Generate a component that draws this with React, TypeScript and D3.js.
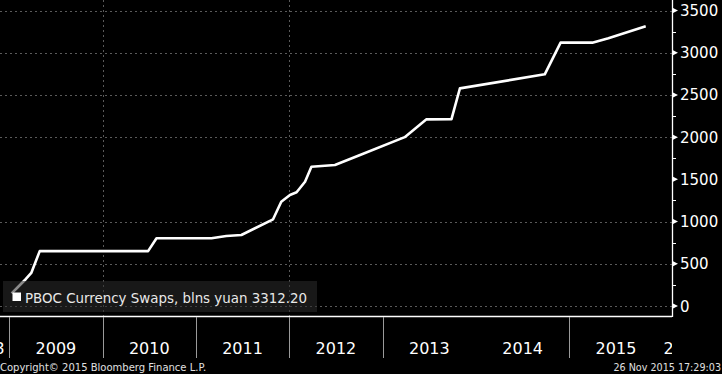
import React from "react";
import * as d3 from "d3";

const dates: string[] = [
  "2009-01-10", "2009-01-31", "2009-03-07", "2009-03-28", "2009-04-30",
  "2010-06-28", "2010-07-31", "2011-03-03", "2011-04-30", "2011-06-28",
  "2011-10-30", "2011-12-01", "2012-01-04", "2012-01-30", "2012-03-03",
  "2012-03-28", "2012-06-28", "2012-09-27", "2013-03-28", "2013-06-20",
  "2013-09-27", "2013-10-30", "2014-09-27", "2014-11-28", "2015-04-01",
  "2015-06-03", "2015-10-27",
];
const values: number[] = [
  150, 213, 320, 391, 650,
  650, 803, 803, 829, 841,
  1027, 1235, 1315, 1347, 1472,
  1650, 1670, 1780, 2000, 2210,
  2213, 2578, 2744, 3119, 3119,
  3171, 3312.2,
];
const yTicks: number[] = [0, 500, 1000, 1500, 2000, 2500, 3000, 3500];
const yGridTicks: number[] = [0, 500, 1000, 2000, 2500, 3000, 3500];
const yearLabels: number[] = [2008, 2009, 2010, 2011, 2012, 2013, 2014, 2015, 2016];
const dividerYears: number[] = [2009, 2010, 2011, 2012, 2013, 2015];
const gridYears: number[] = [2010, 2012];
const seriesName = "PBOC Currency Swaps, blns yuan";
const lastValue = "3312.20";
const copyright = "Copyright\u00A9 2015 Bloomberg Finance L.P.";
const stamp = "26 Nov 2015 17:29:03";

const W = 722;
const H = 374;
const plotRight = 672;
const axisY = 316;
const font = "'DejaVu Sans', Verdana, sans-serif";

export default function App() {
  const parse = d3.timeParse("%Y-%m-%d");
  const data = dates.map((d, i) => ({ date: parse(d) as Date, value: values[i] }));
  const x = d3
    .scaleTime()
    .domain([new Date(2009, 0, 1), new Date(2016, 0, 1)])
    .range([9.3, 662.6]);
  const y = d3.scaleLinear().domain([0, 3500]).range([306, 10.5]);
  const line = d3
    .line<{ date: Date; value: number }>()
    .x((d) => x(d.date))
    .y((d) => y(d.value));
  const minor = d3.range(250, 3500, 500);

  return (
    <div style={{ position: "fixed", left: 0, top: 0, width: W, height: H }}>
      <svg width={W} height={H} style={{ display: "block", background: "#000" }}>
        <rect x={0} y={0} width={W} height={H} fill="#000" />
        <defs>
          <clipPath id="xlab">
            <rect x={0} y={axisY} width={plotRight} height={45} />
          </clipPath>
        </defs>
        {/* horizontal grid */}
        {yGridTicks.map((t) => (
          <line
            key={"g" + t}
            x1={0}
            x2={plotRight}
            y1={Math.round(y(t)) + 0.5}
            y2={Math.round(y(t)) + 0.5}
            stroke="#5a5a5a"
            strokeWidth={1}
            strokeDasharray="2,3"
          />
        ))}
        {gridYears.map((yr) => {
          const xx = Math.round(x(new Date(yr, 0, 1))) + 0.5;
          return (
            <line
              key={"vg" + yr}
              x1={xx}
              x2={xx}
              y1={0}
              y2={axisY}
              stroke="#5a5a5a"
              strokeWidth={1}
              strokeDasharray="2,3"
            />
          );
        })}
        {/* series */}
        <path d={line(data) || ""} fill="none" stroke="#fff" strokeWidth={2.6} strokeLinejoin="round" />
        {/* legend */}
        <rect x={3} y={281} width={314} height={31} fill="rgb(44,44,44)" fillOpacity={0.55} />
        <rect x={12.5} y={292.5} width={8.5} height={8.5} fill="#fff" />
        <text x={25} y={302.5} fill="#e8e8e8" fontFamily={font} fontSize={13.4}>
          {seriesName} {lastValue}
        </text>
        {/* axes frame */}
        <line x1={0} x2={plotRight} y1={axisY + 0.5} y2={axisY + 0.5} stroke="#fff" strokeWidth={1.3} />
        <line x1={plotRight + 0.5} x2={plotRight + 0.5} y1={0} y2={axisY + 1} stroke="#fff" strokeWidth={1.3} />
        {/* y ticks */}
        {yTicks.map((t) => {
          const yy = y(t);
          return (
            <g key={"yt" + t}>
              <path d={`M${plotRight},${yy - 3}L${plotRight + 6},${yy}L${plotRight},${yy + 3}Z`} fill="#fff" />
              <text x={680} y={yy + 5.5} fill="#fff" fontFamily={font} fontSize={15}>
                {t}
              </text>
            </g>
          );
        })}
        {minor.map((t) => (
          <line
            key={"m" + t}
            x1={plotRight}
            x2={plotRight + 4}
            y1={Math.round(y(t)) + 0.5}
            y2={Math.round(y(t)) + 0.5}
            stroke="#fff"
            strokeWidth={1}
          />
        ))}
        {/* x dividers */}
        {dividerYears.map((yr) => {
          const xx = Math.round(x(new Date(yr, 0, 1))) + 0.5;
          return <line key={"d" + yr} x1={xx} x2={xx} y1={axisY + 1} y2={358} stroke="#9a9a9a" strokeWidth={1} />;
        })}
        {/* x labels */}
        <g clipPath="url(#xlab)">
          {yearLabels.map((yr) => {
            let xx = (x(new Date(yr, 0, 1)) + x(new Date(yr + 1, 0, 1))) / 2;
            let anchor: "middle" | "start" | "end" = "middle";
            if (yr === 2008) {
              xx = 4.5;
              anchor = "end";
            }
            if (yr === 2016) {
              xx = 663.5;
              anchor = "start";
            }
            return (
              <text key={"xl" + yr} x={xx} y={354} textAnchor={anchor} fill="#fff" fontFamily={font} fontSize={16}>
                {yr}
              </text>
            );
          })}
        </g>
        {/* footer */}
        <text x={0} y={370.5} fill="#e0e0e0" fontFamily={font} fontSize={10}>
          {copyright}
        </text>
        <text x={721} y={370.5} textAnchor="end" fill="#e0e0e0" fontFamily={font} fontSize={9.6}>
          {stamp}
        </text>
      </svg>
    </div>
  );
}
